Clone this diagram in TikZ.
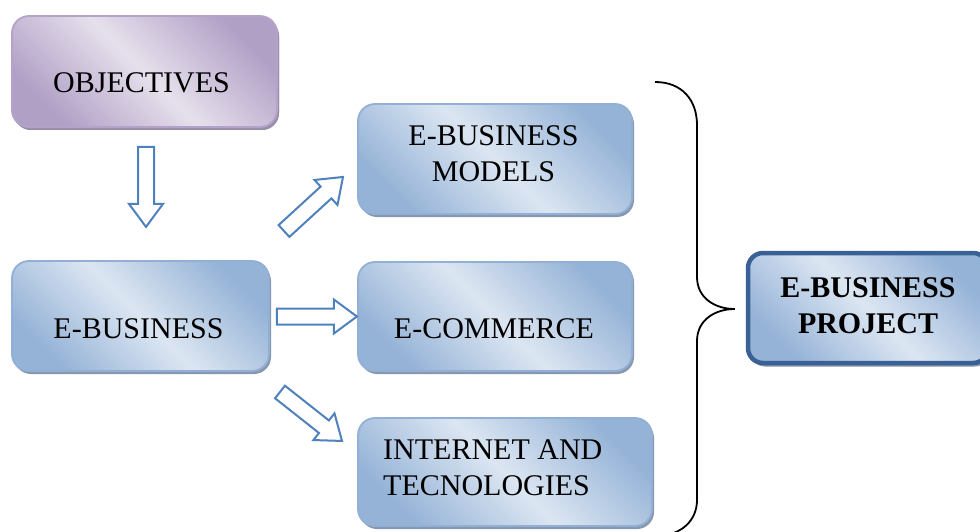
\documentclass[tikz,border=0pt]{standalone}
\usepackage{fontspec}
\setmainfont{Liberation Serif}
\usetikzlibrary{shadows,calc}
\definecolor{bluelight}{HTML}{DCE6F2}
\definecolor{bluedark}{HTML}{95B3D7}
\definecolor{blueborder}{HTML}{92B0D6}
\definecolor{blueshadow}{HTML}{8797AE}
\definecolor{purplelight}{HTML}{E6E0EC}
\definecolor{purpledark}{HTML}{B1A0C6}
\definecolor{purpleborder}{HTML}{B3A3C8}
\definecolor{purpleshadow}{HTML}{9A8EAA}
\definecolor{projborder}{HTML}{3A6196}
\definecolor{projshadow}{HTML}{8C98A8}
\definecolor{arrowblue}{HTML}{4F81BD}
\tikzset{
  box/.style={rounded corners=17pt, inner sep=0pt, draw=blueborder, line width=1.8pt,
    top color=bluedark, bottom color=bluedark, middle color=bluelight, shading angle=-45,
    general shadow={fill=blueshadow, shadow xshift=2pt, shadow yshift=-3pt}},
  objbox/.style={box, draw=purpleborder,
    top color=purpledark, bottom color=purpledark, middle color=purplelight, shading angle=-45,
    general shadow={fill=purpleshadow, shadow xshift=2pt, shadow yshift=-3pt}},
  projbox/.style={box, draw=projborder, line width=4.5pt, rounded corners=15pt,
    general shadow={fill=projshadow, shadow xshift=2pt, shadow yshift=-3.5pt}},
  txt/.style={font=\fontsize{30}{36}\selectfont, inner sep=0pt, align=center},
  arrowline/.style={draw=arrowblue, fill=white, line width=2pt, line join=miter},
  barrow/.pic={\draw[arrowline] (0,-8) -- (#1-23,-8) -- (#1-23,-17) -- (#1,0)
     -- (#1-23,17) -- (#1-23,8) -- (0,8) -- cycle;},
  bracepath/.style={draw=black, line width=1.8pt}
}
\begin{document}
\begin{tikzpicture}[x=1pt,y=-1pt]
\useasboundingbox (0,0) rectangle (980,532);
\clip (0,0) rectangle (980,532);
% boxes
\node[objbox, minimum width=265pt, minimum height=111pt] (obj) at (144.5,71.5) {};
\node[box, minimum width=257pt, minimum height=110pt] (ebiz) at (140.5,316) {};
\node[box, minimum width=274pt, minimum height=110pt] (models) at (495,159) {};
\node[box, minimum width=274pt, minimum height=109pt] (ecom) at (495,316.5) {};
\node[box, minimum width=294pt, minimum height=108pt] (inet) at (505,472) {};
\node[projbox, minimum width=240pt, minimum height=110pt] (proj) at (868,308) {};
% texts
\node[txt, anchor=base] (tobj) at (141.5,93) {OBJECTIVES};
\node[txt, anchor=base] (tebiz) at (138.5,338) {E-BUSINESS};
\node[txt, anchor=base] (tecom) at (494,338) {E-COMMERCE};
\node[txt] (tmodels) at (493.5,153.5) {E-BUSINESS\\MODELS};
\node[txt, align=left, anchor=west] (tinet) at (383,468) {INTERNET AND\\TECNOLOGIES};
\node[txt, font=\fontsize{30}{36}\selectfont\bfseries] (tproj) at (868,305.5) {E-BUSINESS\\PROJECT};
% block arrows
\pic[rotate=-90] at ($(obj.south)+(1.5,19)$) {barrow=80};
\pic at ($(ebiz.east)+(7,0.5)$) {barrow=80};
\pic[rotate=42.5] at (284,231) {barrow=80};
\pic[rotate=-38.3] at (280,392) {barrow=79};
% brace
\coordinate (btip) at ($(proj.west)+(-11,1)$);
\draw[bracepath] (655,82) .. controls (682,82) and (697,100) .. (697,125)
  -- (697,277) .. controls (697,298) and (715,309) .. (btip)
  .. controls (715,309) and (697,320) .. (697,341)
  -- (697,500) .. controls (697,520) and (682,536) .. (655,536);
\end{tikzpicture}
\end{document}
